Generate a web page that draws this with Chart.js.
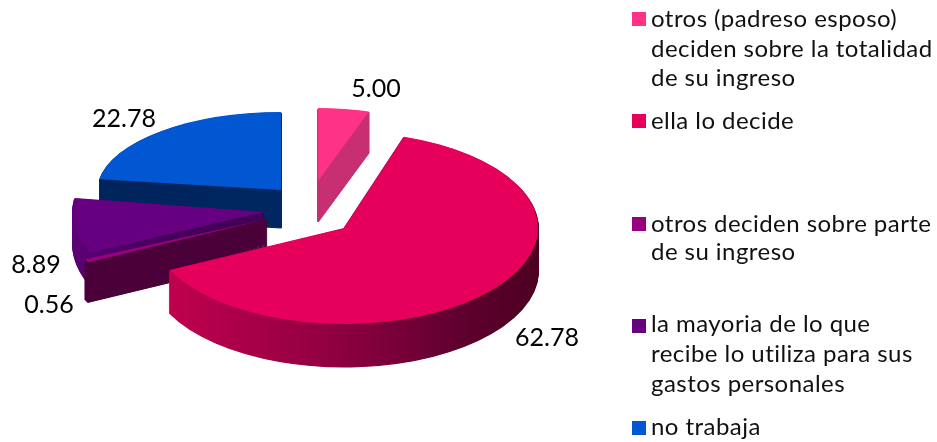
<!DOCTYPE html>
<html>
<head>
<meta charset="utf-8">
<style>html,body{margin:0;padding:0;background:#fff}canvas{display:block}</style>
<script src="https://cdn.jsdelivr.net/npm/chart.js@4"></script>
</head>
<body>
<canvas id="c" width="937" height="442"></canvas>
<script>
const categories = [
  ["otros (padreso esposo)", "deciden sobre la totalidad", "de su ingreso"],
  ["ella lo decide"],
  ["otros deciden sobre parte", "de su ingreso"],
  ["la mayoria de lo que", "recibe lo utiliza para sus", "gastos personales"],
  ["no trabaja"]
];
const values = [5.00, 62.78, 0.56, 8.89, 22.78];
const topColors = ["#FF3385", "#E6005C", "#99007F", "#660080", "#0057D1"];
const sideStops = [
  [[0, "#C82F72"], [1, "#C82F72"]],
  [[0, "#C6004F"], [0.5, "#8C0040"], [0.78, "#620030"], [1, "#4D0022"]],
  [[0, "#4A0038"], [1, "#4A0038"]],
  [[0, "#5C0076"], [0.25, "#45005A"], [1, "#3A004C"]],
  [[0, "#00245C"], [1, "#002A66"]]
];
const legendSwatchColors = topColors;
const legendTops = [12, 114, 217, 319, 421];
const legendBaselines = [[27, 57, 86], [129], [232, 260], [332, 362, 392], [435]];
const labelPositions = [[376, 97], [547, 346], [49, 313], [36, 273], [124, 127]];
const drawOrder = [4, 0, 3, 2, 1];
const poses = [
  {cx: 318, cy: 181, rx: 165, ry: 73, depth: 41},
  {cx: 344, cy: 228, rx: 194, ry: 96, depth: 43},
  {cx: 267, cy: 219, rx: 199, ry: 99, depth: 40},
  {cx: 264, cy: 212, rx: 191, ry: 100, depth: 32},
  {cx: 281, cy: 190, rx: 183, ry: 78, depth: 38}
];
const BASE_R = 100;
const FONT = "Lato";

const pie3d = {
  id: "pie3d",
  beforeDatasetDraw(chart, args) {
    const ctx = chart.ctx;
    const arcs = args.meta.data;
    drawOrder.forEach(i => {
      const arc = arcs[i], p = poses[i], base = arc.options;
      const sx = p.rx / BASE_R, sy = p.ry / BASE_R;
      const toLocal = X => (X - p.cx) / sx + arc.x;
      const g = ctx.createLinearGradient(toLocal(p.cx - p.rx), 0, toLocal(p.cx + p.rx), 0);
      sideStops[i].forEach(s => g.addColorStop(s[0], s[1]));
      for (let d = p.depth; d >= 0; d--) {
        ctx.save();
        ctx.translate(p.cx, p.cy + d);
        ctx.scale(sx, sy);
        ctx.translate(-arc.x, -arc.y);
        arc.options = Object.create(base, d === 0
          ? {backgroundColor: {value: topColors[i]}}
          : {backgroundColor: {value: g}, borderColor: {value: g}, borderWidth: {value: 1}, borderAlign: {value: "center"}});
        arc.draw(ctx);
        ctx.restore();
      }
      arc.options = base;
    });
    return false;
  },
  afterDraw(chart) {
    const ctx = chart.ctx;
    ctx.save();
    ctx.fillStyle = "#000";
    ctx.textBaseline = "alphabetic";
    ctx.textAlign = "center";
    ctx.font = "25px " + FONT;
    values.forEach((v, i) => ctx.fillText(v.toFixed(2), labelPositions[i][0], labelPositions[i][1]));
    ctx.textAlign = "left";
    ctx.font = "24px " + FONT;
    ctx.letterSpacing = "0.45px";
    categories.forEach((lines, i) => {
      ctx.fillStyle = legendSwatchColors[i];
      ctx.fillRect(632, legendTops[i], 14, 14);
      ctx.fillStyle = "#111";
      lines.forEach((t, j) => ctx.fillText(t, 651, legendBaselines[i][j]));
    });
    ctx.restore();
  }
};

new Chart(document.getElementById("c"), {
  type: "pie",
  data: {
    labels: categories.map(l => l.join(" ")),
    datasets: [{data: values, backgroundColor: topColors, borderWidth: 0, radius: BASE_R}]
  },
  options: {
    responsive: false,
    animation: false,
    devicePixelRatio: 1,
    events: [],
    plugins: {legend: {display: false}, tooltip: {enabled: false}}
  },
  plugins: [pie3d]
});
</script>
</body>
</html>
